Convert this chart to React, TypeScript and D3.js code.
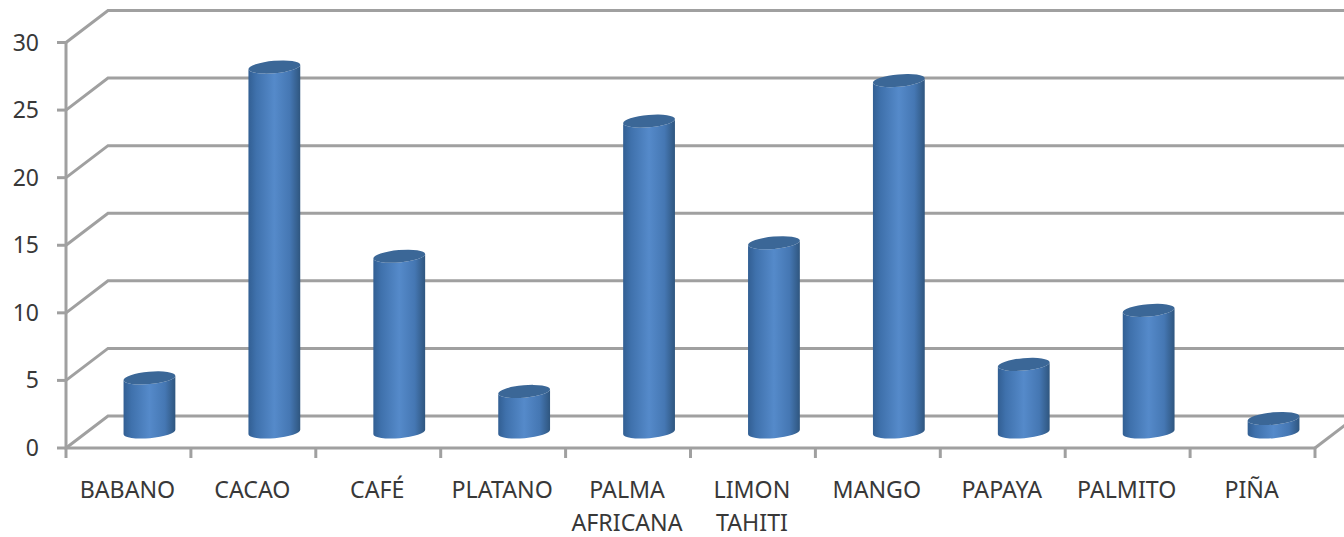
import React from "react";
import * as d3 from "d3";

const categories = [
  ["BABANO"],
  ["CACAO"],
  ["CAFÉ"],
  ["PLATANO"],
  ["PALMA", "AFRICANA"],
  ["LIMON", "TAHITI"],
  ["MANGO"],
  ["PAPAYA"],
  ["PALMITO"],
  ["PIÑA"],
];
const values = [4, 27, 13, 3, 23, 14, 26, 5, 9, 1];
const yTicks = [0, 5, 10, 15, 20, 25, 30];

const W = 1344;
const H = 537;
const left = 66;
const right = 1315;
const depthX = 42;
const depthY = 32;

const x = d3.scaleBand<number>().domain(d3.range(categories.length)).range([left, right]);
const y = d3.scaleLinear().domain([0, 30]).range([448, 42.5]);

const rx = 26;
const ry = 6.2;
const tiltDeg = -5;
const tilt = (tiltDeg * Math.PI) / 180;
const dx = rx * Math.cos(tilt);
const dy = rx * Math.sin(tilt);
const axisColor = "#a0a0a0";
const textColor = "#383838";
const font = "'Noto Sans', sans-serif";

// Cylinder wall between the base ellipse and the top ellipse.
function bodyPath(cx: number, top: number, base: number) {
  const arc = `A${rx},${ry} ${tiltDeg} 0 0 ${cx + dx},${base + dy}`;
  return `M${cx - dx},${top - dy}L${cx - dx},${base - dy}${arc}L${cx + dx},${top + dy}A${rx},${ry} ${tiltDeg} 0 1 ${cx - dx},${top - dy}Z`;
}

export default function App() {
  return (
    <svg
      width={W}
      height={H}
      viewBox={`0 0 ${W} ${H}`}
      style={{ position: "absolute", left: 0, top: 0, background: "#fff" }}
    >
      <defs>
        <linearGradient id="cyl" x1="0" x2="1" y1="0" y2="0">
          <stop offset="0" stopColor="#325f93" />
          <stop offset="0.15" stopColor="#3f71ac" />
          <stop offset="0.5" stopColor="#558aca" />
          <stop offset="0.8" stopColor="#4577b3" />
          <stop offset="1" stopColor="#2f567f" />
        </linearGradient>
      </defs>

      {/* back wall gridlines and side wall diagonals */}
      <g stroke={axisColor} strokeWidth={3} fill="none">
        {yTicks.map((t) => (
          <path
            key={t}
            d={`M${left},${y(t)}L${left + depthX},${y(t) - depthY}L${W + 20},${y(t) - depthY}`}
          />
        ))}
        <path d={`M${right},${y(0)}L${right + depthX},${y(0) - depthY}`} />
        <path d={`M${left},${y(30)}V${y(0)}H${right}`} />
        {yTicks.map((t) => (
          <path key={t} d={`M${left - 9},${y(t)}H${left}`} />
        ))}
        {d3.range(categories.length + 1).map((i) => {
          const px = left + i * x.step();
          return <path key={i} d={`M${px},${y(0)}V${y(0) + 10}`} />;
        })}
      </g>

      {/* value axis labels */}
      <g fontFamily={font} fontSize={23} fill={textColor} textAnchor="end">
        {yTicks.map((t) => (
          <text key={t} x={39} y={y(t) + 8}>
            {t}
          </text>
        ))}
      </g>

      {/* category labels */}
      <g fontFamily={font} fontSize={23.2} fill={textColor} textAnchor="middle">
        {categories.map((lines, i) =>
          lines.map((line, j) => (
            <text key={line} x={x(i)! + x.bandwidth() / 2 - 1} y={498 + j * 33}>
              {line}
            </text>
          )),
        )}
      </g>

      {/* cylinders */}
      {values.map((v, i) => {
        const cx = x(i)! + x.bandwidth() / 2 + depthX / 2;
        const base = y(0) - depthY / 2;
        const top = base - (y(0) - y(v));
        return (
          <g key={i}>
            <path d={bodyPath(cx, top, base)} fill="url(#cyl)" />
            <ellipse
              cx={cx}
              cy={top}
              rx={rx}
              ry={ry}
              transform={`rotate(${tiltDeg} ${cx} ${top})`}
              fill="#3b6797"
            />
          </g>
        );
      })}
    </svg>
  );
}
